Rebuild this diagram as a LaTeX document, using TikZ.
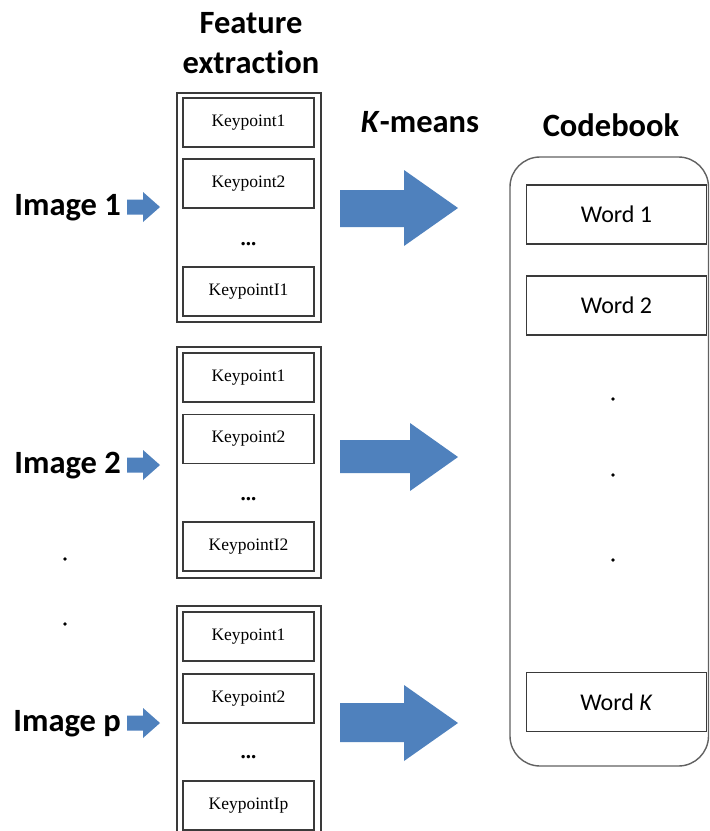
\documentclass[tikz,border=0pt]{standalone}
\usepackage{fontspec}
\setmainfont{Carlito}[Ligatures={NoCommon}]
\newfontfamily\kpfont{Liberation Serif}
\definecolor{arrowblue}{HTML}{4F81BD}
\definecolor{boxgray}{HTML}{3A3A3A}
\tikzset{
  titletext/.style={font=\fontsize{32.5}{40}\selectfont\bfseries, align=center},
  imglabel/.style={font=\fontsize{32.5}{38}\selectfont\bfseries, inner sep=0pt},
  groupbox/.style={draw=boxgray, line width=1.6pt},
  kpbox/.style={draw=boxgray, line width=1.2pt, minimum width=131pt, minimum height=49pt,
    inner sep=0pt, font=\kpfont\fontsize{17.5}{19}\selectfont},
  wordbox/.style={draw=boxgray, line width=1.2pt, minimum width=180pt, minimum height=59pt,
    inner sep=0pt, font=\fontsize{24}{28}\selectfont},
  kpdots/.style={font=\kpfont\fontsize{21}{21}\selectfont\bfseries, inner sep=0pt},
  bigdot/.style={fill=black, circle, inner sep=0pt, minimum size=3.6pt},
  codebook/.style={draw=boxgray!80, line width=1.4pt, rounded corners=30pt},
}
\begin{document}
\begin{tikzpicture}[x=1pt, y=-1pt]
\clip (0,0) rectangle (710,831);
\fill[white] (0,0) rectangle (710,831);

% column titles
\node[titletext] (fe) at (251,43) {Feature\\extraction};
\node[titletext] (km) at (420,122) {\textit{K}-means};
\node[titletext] (cb) at (611,125) {Codebook};

% keypoint groups: outer frame, inner boxes and the ellipsis
\draw[groupbox] (177,93) rectangle (321,322);
\node[kpbox] (k11) at (248.5,122.5) {Keypoint1};
\node[kpbox] (k12) at (248.5,183.5) {Keypoint2};
\node[kpdots] (d1) at (248.5,244) {...};
\node[kpbox] (k1n) at (248.5,291.5) {KeypointI1};

\draw[groupbox] (177,347) rectangle (321,578);
\node[kpbox] (k21) at (248.5,377.5) {Keypoint1};
\node[kpbox] (k22) at (248.5,439) {Keypoint2};
\node[kpdots] (d2) at (248.5,499) {...};
\node[kpbox] (k2n) at (248.5,546.5) {KeypointI2};

\draw[groupbox] (177,606) rectangle (321,838);
\node[kpbox] (k31) at (248.5,636.5) {Keypoint1};
\node[kpbox] (k32) at (248.5,698.5) {Keypoint2};
\node[kpdots] (d3) at (248.5,757) {...};
\node[kpbox] (k3n) at (248.5,805.5) {KeypointIp};

% image labels with small block arrows
\node[imglabel, anchor=east] (im1) at (121,208) {Image 1};
\node[imglabel, anchor=east] (im2) at (121,466) {Image 2};
\node[imglabel, anchor=east] (imp) at (121,724) {Image p};
\node[bigdot] (v1) at (65,559) {};
\node[bigdot] (v2) at (65,624) {};

\foreach \yc in {207,465,723}{
  \fill[arrowblue] (127,\yc-7.5) -- (143,\yc-7.5) -- (143,\yc-15) -- (160,\yc)
    -- (143,\yc+15) -- (143,\yc+7.5) -- (127,\yc+7.5) -- cycle;
}

% large K-means block arrows
\fill[arrowblue] (340,190) -- (404,190) -- (404,170) -- (458,208) -- (404,246)
  -- (404,227) -- (340,227) -- cycle;
\fill[arrowblue] (340,440) -- (410,440) -- (410,423) -- (458,457) -- (410,491)
  -- (410,473) -- (340,473) -- cycle;
\fill[arrowblue] (340,703) -- (404,703) -- (404,685) -- (458,723) -- (404,761)
  -- (404,742) -- (340,742) -- cycle;

% codebook
\draw[codebook] (510,157) rectangle (708.5,766);
\node[wordbox] (w1) at (616.5,214.5) {Word 1};
\node[wordbox] (w2) at (616.5,305.5) {Word 2};
\node[bigdot] (c1) at (613,399) {};
\node[bigdot] (c2) at (613,475) {};
\node[bigdot] (c3) at (613,560) {};
\node[wordbox] (wk) at (616.5,702) {Word \textit{K}};
\end{tikzpicture}
\end{document}
